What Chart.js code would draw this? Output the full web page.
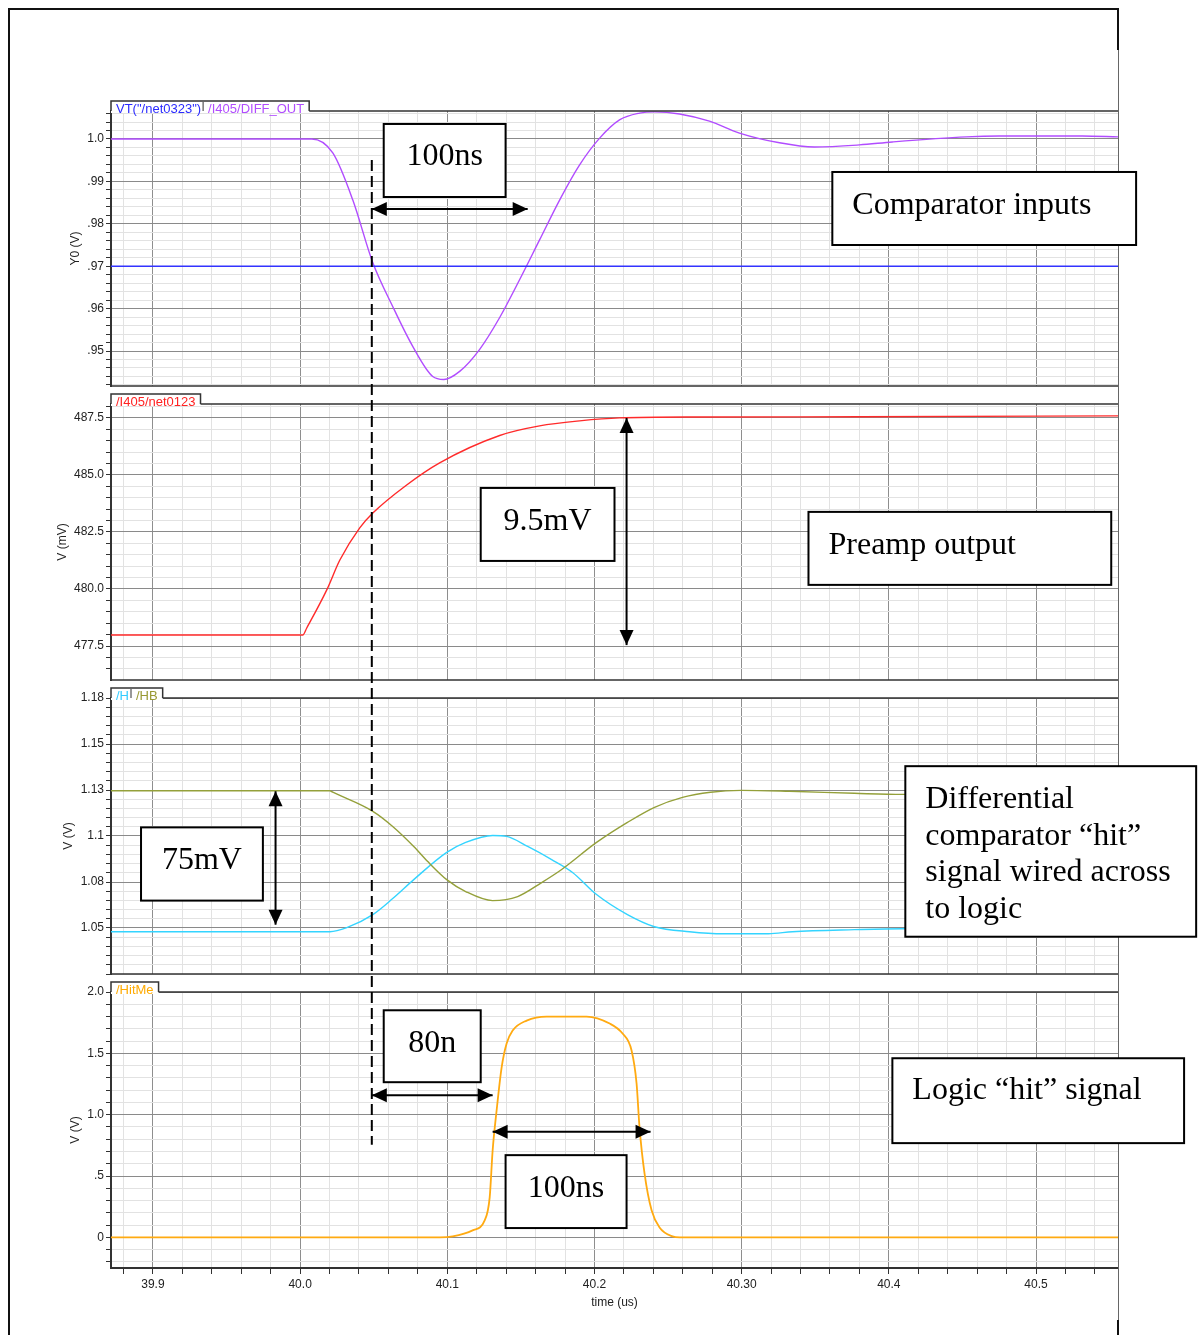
<!DOCTYPE html>
<html>
<head>
<meta charset="utf-8">
<script src="https://cdn.jsdelivr.net/npm/chart.js@4.4.1/dist/chart.umd.min.js"></script>
<style>
  html, body { margin: 0; padding: 0; background: #fff; }
  #page { position: relative; width: 1199px; height: 1335px; overflow: hidden; background: #fff; }
  .panel { position: absolute; left: 0; width: 1199px; }
  #overlay { position: absolute; left: 0; top: 0; z-index: 5; pointer-events: none; }
</style>
</head>
<body>
<div id="page">
  <div class="panel" id="p0"><canvas id="c0"></canvas></div>
  <div class="panel" id="p1"><canvas id="c1"></canvas></div>
  <div class="panel" id="p2"><canvas id="c2"></canvas></div>
  <div class="panel" id="p3"><canvas id="c3"></canvas></div>
  <canvas id="overlay" width="1199" height="1335"></canvas>
</div>
<script>
// ---- time axis (us) ----
const timeRange = [39.8715, 40.5557];
const timeTickValues = [39.9, 40.0, 40.1, 40.2, 40.3, 40.4, 40.5];
const timeTickLabels = ['39.9', '40.0', '40.1', '40.2', '40.30', '40.4', '40.5'];

// ---- panel 1: comparator inputs ----
const vtTime = [39.8715, 40.5557];
const vtValues = [0.97, 0.97];
const diffTime = [39.8715, 40.0, 40.0079, 40.0222, 40.0358, 40.0494, 40.0629, 40.0765, 40.0901, 40.0976,
  40.1084, 40.1220, 40.1356, 40.1491, 40.1627, 40.1763, 40.1899, 40.2035, 40.2170, 40.2306, 40.2408,
  40.2578, 40.2781, 40.2985, 40.3257, 40.3494, 40.3800, 40.4024, 40.4526, 40.4750, 40.5314, 40.5557];
const diffValues = [1.0, 1.0, 1.0, 0.9967, 0.9856, 0.9708, 0.9605, 0.9511, 0.9440, 0.9433,
  0.9452, 0.9504, 0.9579, 0.9668, 0.9762, 0.9856, 0.9939, 1.0002, 1.0045, 1.0061, 1.0064,
  1.0059, 1.0042, 1.0014, 0.9991, 0.9981, 0.9986, 0.9993, 1.0005, 1.0007, 1.0007, 1.0005];
const p1TickValues = [1.0, 0.99, 0.98, 0.97, 0.96, 0.95];
const p1TickLabels = ['1.0', '.99', '.98', '.97', '.96', '.95'];

// ---- panel 2: preamp output (mV) ----
const preTime = [39.8715, 40.0018, 40.0045, 40.0181, 40.0270, 40.0405, 40.0494, 40.0724, 40.0948,
  40.1356, 40.1627, 40.1899, 40.2170, 40.2713, 40.3800, 40.5557];
const preValues = [477.98, 477.98, 478.29, 479.96, 481.27, 482.68, 483.33, 484.56, 485.53,
  486.73, 487.15, 487.37, 487.50, 487.54, 487.55, 487.59];
const p2TickValues = [487.5, 485.0, 482.5, 480.0, 477.5];
const p2TickLabels = ['487.5', '485.0', '482.5', '480.0', '477.5'];

// ---- panel 3: differential hit signal ----
const hTime = [39.8715, 40.0202, 40.0317, 40.0494, 40.0629, 40.0772, 40.0996, 40.1125, 40.1308, 40.1403,
  40.1546, 40.1709, 40.1851, 40.2014, 40.2224, 40.2408, 40.2646, 40.2877, 40.3182, 40.3345, 40.3766,
  40.4092, 40.5557];
const hValues = [1.0480, 1.0480, 1.0502, 1.0573, 1.0660, 1.0763, 1.0911, 1.0965, 1.1003, 1.0998,
  1.0943, 1.0872, 1.0802, 1.0682, 1.0573, 1.0507, 1.0480, 1.0469, 1.0469, 1.0480, 1.0491,
  1.0496, 1.0496];
const hbTime = [39.8715, 40.0202, 40.0222, 40.0494, 40.0629, 40.0772, 40.0867, 40.0996, 40.1125, 40.1308,
  40.1478, 40.1641, 40.1777, 40.2014, 40.2224, 40.2408, 40.2598, 40.2788, 40.2999, 40.3324, 40.3766,
  40.4092, 40.5557];
const hbValues = [1.1246, 1.1246, 1.1238, 1.1134, 1.1052, 1.0943, 1.0861, 1.0763, 1.0698, 1.0649,
  1.0671, 1.0747, 1.0818, 1.0965, 1.1074, 1.1156, 1.1210, 1.1238, 1.1248, 1.1243, 1.1232,
  1.1226, 1.1226];
const p3TickValues = [1.175, 1.15, 1.125, 1.1, 1.075, 1.05];
const p3TickLabels = ['1.18', '1.15', '1.13', '1.1', '1.08', '1.05'];

// ---- panel 4: logic hit signal ----
const hitTime = [39.8715, 40.0950, 40.1037, 40.1172, 40.1254, 40.1288, 40.1308, 40.1335, 40.1369, 40.1403,
  40.1444, 40.1539, 40.1675, 40.1946, 40.2103, 40.2191, 40.2252, 40.2286, 40.2306, 40.2340, 40.2388,
  40.2442, 40.2530, 40.2580, 40.5557];
const hitValues = [0, 0, 0.008, 0.057, 0.138, 0.326, 0.708, 1.034, 1.384, 1.580,
  1.686, 1.767, 1.800, 1.800, 1.743, 1.661, 1.523, 1.254, 0.896, 0.521, 0.220,
  0.081, 0.008, 0, 0];
const p4TickValues = [2.0, 1.5, 1.0, 0.5, 0];
const p4TickLabels = ['2.0', '1.5', '1.0', '.5', '0'];

// ---- annotations, in each panel's own units ----
const cursorTime = 40.0487;
const cursorFrom = [0, 0.99505];   // [panel, value]
const cursorTo = [3, 0.7541];
const noteBoxes = [
  { panel: 0, t: [40.0568, 40.1396], v: [1.00354, 0.98632], lines: ['100ns'], align: 'center', dy: -4 },
  { panel: 0, t: [40.3616, 40.5680], v: [0.99222, 0.9750], lines: ['Comparator inputs'], align: 'left', dy: -3 },
  { panel: 1, t: [40.1227, 40.2136], v: [484.43, 481.23], lines: ['9.5mV'], align: 'center', dy: -3 },
  { panel: 1, t: [40.3454, 40.5511], v: [483.38, 480.18], lines: ['Preamp output'], align: 'left', dy: -3 },
  { panel: 2, t: [39.8919, 39.9747], v: [1.10469, 1.06489], lines: ['75mV'], align: 'center', dy: -3 },
  { panel: 2, t: [40.4112, 40.6088], v: [1.13795, 1.04526],
    lines: ['Differential', 'comparator \u201chit\u201d', 'signal wired across', 'to logic'], align: 'left', dy: 3 },
  { panel: 3, t: [40.0568, 40.1227], v: [1.851, 1.2647], lines: ['80n'], align: 'center', dy: -3 },
  { panel: 3, t: [40.4024, 40.6006], v: [1.460, 0.768], lines: ['Logic \u201chit\u201d signal'], align: 'left', dy: -10 },
  { panel: 3, t: [40.1396, 40.2218], v: [0.670, 0.0757], lines: ['100ns'], align: 'center', dy: -3 }
];
const spanArrows = [
  { panel: 0, t: [40.0487, 40.1546], v: [0.98349, 0.98349] },
  { panel: 1, t: [40.2218, 40.2218], v: [487.5, 477.54] },
  { panel: 2, t: [39.9833, 39.9833], v: [1.12432, 1.0518] },
  { panel: 3, t: [40.0487, 40.1308], v: [1.1588, 1.1588] },
  { panel: 3, t: [40.1308, 40.2381], v: [0.860, 0.860] }
];

const SANS = '"Liberation Sans", Arial, sans-serif';
const SERIF = '"Liberation Serif", "Times New Roman", serif';

function pts(xs, ys) { return xs.map((x, i) => ({ x: x, y: ys[i] })); }
function stepTicks(min, max, step) {
  const out = [];
  for (let k = Math.ceil(min / step - 1e-9); k * step <= max + 1e-9; k++) {
    out.push({ value: +(k * step).toFixed(6) });
  }
  return out;
}
function onStep(v, step) { const r = v / step; return Math.abs(r - Math.round(r)) < 1e-6; }
function labelFor(v, values, labels) {
  const i = values.findIndex(t => Math.abs(t - v) < 1e-6);
  return i < 0 ? '' : labels[i];
}

// panel layout: chart area tops 111 / 404 / 698 / 992
const panels = [
  { top: 81, height: 315, yWidth: 47, yRange: [0.94175, 1.0066], yStep: 0.002, yTicks: p1TickValues, yLabels: p1TickLabels,
    yTitle: 'Y0 (V)', tab: [{ text: 'VT("/net0323")', color: '#2a2aff' }, { text: '/I405/DIFF_OUT', color: '#b14cff' }],
    series: [{ t: vtTime, v: vtValues, color: '#3333ff', width: 1.4 }, { t: diffTime, v: diffValues, color: '#b14cff', width: 1.4 }] },
  { top: 374, height: 316, yWidth: 60, yRange: [476.01, 488.11], yStep: 0.5, yTicks: p2TickValues, yLabels: p2TickLabels,
    yTitle: 'V (mV)', tab: [{ text: '/I405/net0123', color: '#ff2222' }],
    series: [{ t: preTime, v: preValues, color: '#ff2a2a', width: 1.4 }] },
  { top: 668, height: 316, yWidth: 54, yRange: [1.025, 1.175], yStep: 0.005, yTicks: p3TickValues, yLabels: p3TickLabels,
    yTitle: 'V (V)', tab: [{ text: '/H', color: '#33ccff' }, { text: '/HB', color: '#999933' }],
    series: [{ t: hbTime, v: hbValues, color: '#94a03a', width: 1.4 }, { t: hTime, v: hValues, color: '#33d4ff', width: 1.4 }] },
  { top: 962, height: 357, yWidth: 47, yRange: [-0.25, 2.0], yStep: 0.1, yTicks: p4TickValues, yLabels: p4TickLabels,
    yTitle: 'V (V)', tab: [{ text: '/HitMe', color: '#ffaa00' }], bottom: true,
    series: [{ t: hitTime, v: hitValues, color: '#ffaa11', width: 1.8 }] }
];

const framePlugin = {
  id: 'frame',
  afterDatasetsDraw(chart) {
    const { ctx, chartArea: a } = chart;
    ctx.save();
    ctx.strokeStyle = '#333';
    ctx.lineWidth = 1.5;
    ctx.beginPath();
    ctx.moveTo(a.left, a.top); ctx.lineTo(a.right, a.top);
    ctx.moveTo(a.left, a.bottom); ctx.lineTo(a.right, a.bottom);
    ctx.stroke();
    ctx.strokeStyle = '#666';
    ctx.lineWidth = 1;
    ctx.beginPath();
    ctx.moveTo(a.right + 0.5, a.top); ctx.lineTo(a.right + 0.5, a.bottom);
    ctx.stroke();
    ctx.restore();
  }
};

const tabPlugin = {
  id: 'tab',
  afterDraw(chart, args, opts) {
    const { ctx, chartArea: a } = chart;
    const items = opts.items || [];
    ctx.save();
    ctx.font = '13px ' + SANS;
    let w = 5;
    items.forEach((it, i) => { w += ctx.measureText(it.text).width + (i ? 7 : 0); });
    w += 5;
    const top = a.top - 10;
    ctx.fillStyle = '#fff';
    ctx.fillRect(a.left, top, w, 12);
    ctx.strokeStyle = '#333';
    ctx.lineWidth = 1.5;
    ctx.beginPath();
    ctx.moveTo(a.left, a.top); ctx.lineTo(a.left, top); ctx.lineTo(a.left + w, top); ctx.lineTo(a.left + w, a.top);
    ctx.stroke();
    let x = a.left + 5;
    ctx.textBaseline = 'alphabetic';
    items.forEach((it, i) => {
      if (i) {
        ctx.strokeStyle = '#333';
        ctx.lineWidth = 1;
        ctx.beginPath();
        ctx.moveTo(x + 2, top + 1); ctx.lineTo(x + 2, top + 10);
        ctx.stroke();
        x += 7;
      }
      ctx.fillStyle = it.color;
      ctx.fillText(it.text, x, a.top + 2);
      x += ctx.measureText(it.text).width;
    });
    ctx.restore();
  }
};

const charts = panels.map((p, i) => {
  const box = document.getElementById('p' + i);
  box.style.top = p.top + 'px';
  box.style.height = p.height + 'px';
  const bottom = !!p.bottom;
  return new Chart(document.getElementById('c' + i), {
    type: 'line',
    data: {
      datasets: p.series.map(s => ({
        data: pts(s.t, s.v),
        borderColor: s.color,
        borderWidth: s.width,
        pointRadius: 0,
        cubicInterpolationMode: 'monotone',
        fill: false
      }))
    },
    options: {
      responsive: true,
      maintainAspectRatio: false,
      animation: false,
      events: [],
      layout: { padding: { top: 30, bottom: bottom ? 5 : 0, left: 111 - p.yWidth, right: 81 } },
      plugins: { legend: { display: false }, tooltip: { enabled: false }, tab: { items: p.tab } },
      scales: {
        x: {
          type: 'linear',
          min: timeRange[0],
          max: timeRange[1],
          afterBuildTicks: s => { s.ticks = stepTicks(s.min, s.max, 0.02); },
          afterFit: s => { s.height = bottom ? 46 : 10; },
          grid: {
            color: c => onStep(c.tick.value, 0.1) ? '#8e8e8e' : '#e2e2e2',
            lineWidth: 1,
            drawTicks: bottom,
            tickLength: 6,
            tickColor: '#333'
          },
          border: { display: bottom, color: '#333', width: 2 },
          ticks: {
            display: bottom,
            autoSkip: false,
            maxRotation: 0,
            minRotation: 0,
            padding: 3,
            color: '#222',
            font: { family: SANS, size: 12 },
            callback: v => labelFor(v, timeTickValues, timeTickLabels)
          },
          title: { display: bottom, text: 'time (us)', color: '#222', font: { family: SANS, size: 12 }, padding: { top: 2, bottom: 4 } }
        },
        y: {
          type: 'linear',
          min: p.yRange[0],
          max: p.yRange[1],
          afterBuildTicks: s => { s.ticks = stepTicks(s.min, s.max, p.yStep); },
          afterFit: s => { s.width = p.yWidth; },
          grid: {
            color: c => labelFor(c.tick.value, p.yTicks, p.yLabels) ? '#8a8a8a' : '#e2e2e2',
            lineWidth: 1,
            drawTicks: true,
            tickLength: 5,
            tickColor: '#333'
          },
          border: { display: true, color: '#333', width: 2 },
          ticks: {
            autoSkip: false,
            padding: 2,
            color: '#222',
            font: { family: SANS, size: 12 },
            callback: v => labelFor(v, p.yTicks, p.yLabels)
          },
          title: { display: true, text: p.yTitle, color: '#222', font: { family: SANS, size: 12 }, padding: { top: 4, bottom: 2 } }
        }
      }
    },
    plugins: [framePlugin, tabPlugin]
  });
});

// ---- overlay: cursor, spans and note boxes ----
function px(i, t) { return charts[i].scales.x.getPixelForValue(t); }
function py(i, v) { return panels[i].top + charts[i].scales.y.getPixelForValue(v); }

function arrowHead(ctx, x, y, dx, dy) {
  const len = 15, half = 7;
  const n = Math.hypot(dx, dy), ux = dx / n, uy = dy / n;
  ctx.beginPath();
  ctx.moveTo(x, y);
  ctx.lineTo(x - ux * len - uy * half, y - uy * len + ux * half);
  ctx.lineTo(x - ux * len + uy * half, y - uy * len - ux * half);
  ctx.closePath();
  ctx.fill();
}

function drawOverlay() {
  const ctx = document.getElementById('overlay').getContext('2d');
  ctx.clearRect(0, 0, 1199, 1335);

  // figure border
  ctx.strokeStyle = '#111';
  ctx.lineWidth = 2;
  ctx.beginPath();
  ctx.moveTo(9, 1335); ctx.lineTo(9, 9); ctx.lineTo(1118, 9); ctx.lineTo(1118, 50);
  ctx.moveTo(1118, 1320); ctx.lineTo(1118, 1335);
  ctx.stroke();
  ctx.strokeStyle = '#666';
  ctx.lineWidth = 1;
  ctx.beginPath();
  ctx.moveTo(1118.5, 50); ctx.lineTo(1118.5, 1320);
  ctx.stroke();

  // dashed cursor
  const cx = px(0, cursorTime);
  ctx.strokeStyle = '#000';
  ctx.lineWidth = 2;
  ctx.setLineDash([11, 5]);
  ctx.beginPath();
  ctx.moveTo(cx, py(cursorFrom[0], cursorFrom[1]));
  ctx.lineTo(cx, py(cursorTo[0], cursorTo[1]));
  ctx.stroke();
  ctx.setLineDash([]);

  // double-headed arrows
  ctx.fillStyle = '#000';
  spanArrows.forEach(a => {
    const x1 = px(a.panel, a.t[0]), x2 = px(a.panel, a.t[1]);
    const y1 = py(a.panel, a.v[0]), y2 = py(a.panel, a.v[1]);
    ctx.lineWidth = 2;
    ctx.beginPath();
    ctx.moveTo(x1, y1); ctx.lineTo(x2, y2);
    ctx.stroke();
    arrowHead(ctx, x1, y1, x1 - x2, y1 - y2);
    arrowHead(ctx, x2, y2, x2 - x1, y2 - y1);
  });

  // note boxes
  noteBoxes.forEach(b => {
    const x1 = px(b.panel, b.t[0]), x2 = px(b.panel, b.t[1]);
    const y1 = py(b.panel, b.v[0]), y2 = py(b.panel, b.v[1]);
    ctx.fillStyle = '#fff';
    ctx.fillRect(x1, y1, x2 - x1, y2 - y1);
    ctx.strokeStyle = '#000';
    ctx.lineWidth = 2;
    ctx.strokeRect(x1, y1, x2 - x1, y2 - y1);
    ctx.fillStyle = '#000';
    ctx.font = '32px ' + SERIF;
    ctx.textBaseline = 'middle';
    ctx.textAlign = b.align;
    const lh = 36.7;
    const mid = (y1 + y2) / 2 + b.dy;
    const tx = b.align === 'center' ? (x1 + x2) / 2 : x1 + 20;
    b.lines.forEach((line, k) => {
      ctx.fillText(line, tx, mid + (k - (b.lines.length - 1) / 2) * lh);
    });
  });
}

drawOverlay();
</script>
</body>
</html>
